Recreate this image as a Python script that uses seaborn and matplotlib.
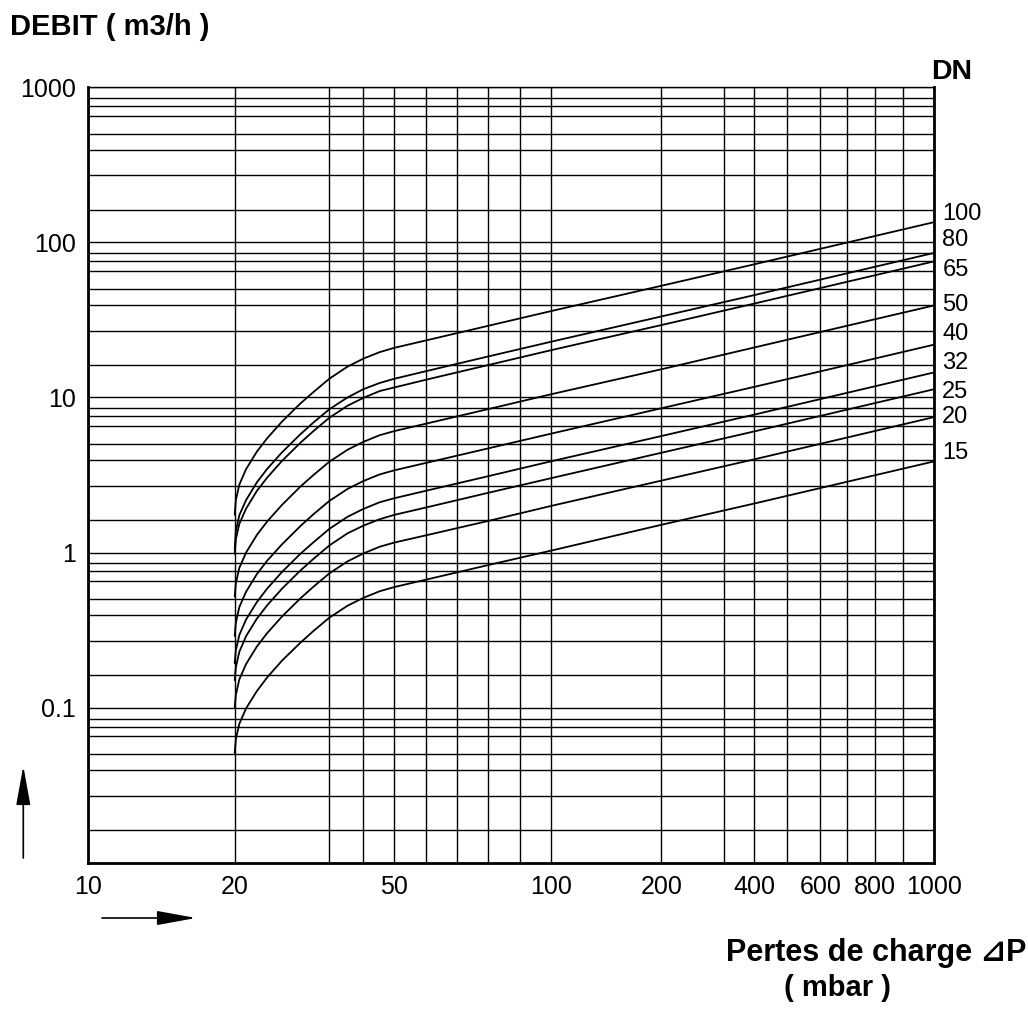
# Pressure drop chart: flow (m3/h) vs pressure loss (mbar) per DN size
import numpy as np
import pandas as pd
import matplotlib
matplotlib.use("Agg")
import matplotlib.pyplot as plt
import seaborn as sns
from matplotlib.patches import FancyArrowPatch

# ============================================
# DATA
# ============================================

pressure_mbar = [20, 20.1, 20.4, 21, 22, 23, 24.5, 26.5, 28, 30, 35, 40, 45, 50,
                 60, 80, 100, 200, 400, 1000]

dn_sizes = ["100", "80", "65", "50", "40", "32", "25", "20", "15"]

flow_dn100 = [1.75, 2.18, 2.74, 3.45, 4.48, 5.47, 6.99, 9.14, 10.8, 13.2, 15.8,
              17.8, 19.6, 20.9, 23.3, 29.0, 36.1, 52.5, 72.2, 135]
flow_dn80 = [1.05, 1.38, 1.74, 2.18, 2.84, 3.47, 4.43, 5.79, 6.87, 8.39, 10.0,
             11.3, 12.4, 13.2, 14.76, 18.4, 22.9, 33.3, 45.7, 85.5]
flow_dn65 = [0.98, 1.22, 1.53, 1.92, 2.50, 3.05, 3.90, 5.10, 6.05, 7.39, 8.84,
             9.93, 11.0, 11.6, 13.0, 16.2, 20.2, 29.3, 40.3, 75.4]
flow_dn50 = [0.52, 0.633, 0.796, 1.00, 1.30, 1.59, 2.03, 2.66, 3.15, 3.85, 4.60,
             5.17, 5.71, 6.07, 6.77, 8.42, 10.5, 15.2, 21.0, 39.2]
flow_dn40 = [0.29, 0.353, 0.445, 0.559, 0.727, 0.888, 1.13, 1.48, 1.76, 2.15,
             2.57, 2.89, 3.19, 3.39, 3.78, 4.70, 5.85, 8.52, 11.7, 21.9]
flow_dn32 = [0.193, 0.234, 0.294, 0.37, 0.48, 0.587, 0.75, 0.981, 1.16, 1.42,
             1.70, 1.91, 2.11, 2.24, 2.50, 3.11, 3.88, 5.64, 7.75, 14.5]
flow_dn25 = [0.15, 0.182, 0.229, 0.289, 0.375, 0.458, 0.585, 0.765, 0.907, 1.11,
             1.33, 1.49, 1.64, 1.75, 1.95, 2.43, 3.02, 4.40, 6.04, 11.3]
flow_dn20 = [0.10, 0.121, 0.152, 0.191, 0.248, 0.303, 0.387, 0.506, 0.60, 0.733,
             0.877, 0.986, 1.09, 1.16, 1.29, 1.60, 2.00, 2.91, 3.99, 7.47]
flow_dn15 = [0.051, 0.0625, 0.0786, 0.0989, 0.128, 0.157, 0.201, 0.262, 0.311,
             0.380, 0.454, 0.510, 0.563, 0.599, 0.668, 0.831, 1.03, 1.51, 2.07,
             3.87]

all_flows = [flow_dn100, flow_dn80, flow_dn65, flow_dn50, flow_dn40,
             flow_dn32, flow_dn25, flow_dn20, flow_dn15]

x_tick_values = [10, 20, 50, 100, 200, 400, 600, 800, 1000]
y_tick_values = [0.1, 1, 10, 100, 1000]
y_tick_labels = ["0.1", "1", "10", "100", "1000"]

# long format table for seaborn
rows = []
for dn, flows in zip(dn_sizes, all_flows):
    for p, q in zip(pressure_mbar, flows):
        rows.append({"DN": dn, "pressure": p, "flow": q})
df = pd.DataFrame(rows)

# ============================================
# AXIS SCALES (hand drawn, non uniform paper)
# ============================================

# x grid values and where they sit along the axis (0 = left, 1 = right)
x_grid_values = [10, 20, 30, 40, 50, 60, 70, 80, 90, 100,
                 200, 300, 400, 500, 600, 700, 800, 900, 1000]
x_grid_frac = [0.0, 0.1734, 0.2852, 0.3254, 0.3621, 0.3992, 0.4364, 0.4734,
               0.5103, 0.5478, 0.6778, 0.7519, 0.7875, 0.8262, 0.8655,
               0.8975, 0.9307, 0.9634, 1.0]

lk = np.log10(np.array(x_grid_values, float))
fk = np.array(x_grid_frac)


def _interp_ext(v, xs, ys):
    out = np.interp(v, xs, ys)
    lo_slope = (ys[1] - ys[0]) / (xs[1] - xs[0])
    hi_slope = (ys[-1] - ys[-2]) / (xs[-1] - xs[-2])
    out = np.where(v < xs[0], ys[0] + (v - xs[0]) * lo_slope, out)
    out = np.where(v > xs[-1], ys[-1] + (v - xs[-1]) * hi_slope, out)
    return out


def x_forward(x):
    x = np.asarray(x, float)
    lx = np.log10(np.maximum(x, 1e-12))
    return _interp_ext(lx, lk, fk)


def x_inverse(f):
    f = np.asarray(f, float)
    return 10 ** _interp_ext(f, fk, lk)


# y minor grid lines inside each decade
y_minor_mant = [8.5, 7.55, 6.55, 5.0, 3.95, 2.7, 1.62]
y_minor = [m * 10.0 ** k for k in range(-3, 3) for m in y_minor_mant]

# ============================================
# PLOT
# ============================================

sns.set_style("white")
plt.rcParams["font.family"] = ["Liberation Sans", "DejaVu Sans"]
plt.rcParams["text.color"] = "black"
plt.rcParams["axes.labelcolor"] = "black"
plt.rcParams["xtick.color"] = "black"
plt.rcParams["ytick.color"] = "black"

W, H = 1028, 1010
fig = plt.figure(figsize=(W / 100, H / 100), dpi=100)
ax = fig.add_axes([88 / W, 1 - 862.7 / H, 846 / W, 775.4 / H])

sns.lineplot(
    data=df,
    x="pressure",
    y="flow",
    hue="DN",
    palette=["black"] * len(dn_sizes),
    legend=False,
    errorbar=None,
    linewidth=1.3,
    ax=ax,
)

ax.set_xscale("function", functions=(x_forward, x_inverse))
ax.set_yscale("log")
ax.set_xlim(10, 1000)
ax.set_ylim(0.01, 1000)

ax.set_xticks(x_tick_values)
ax.set_xticklabels([str(v) for v in x_tick_values])
ax.set_xticks([v for v in x_grid_values if v not in x_tick_values], minor=True)

ax.set_yticks(y_tick_values)
ax.set_yticklabels(y_tick_labels)
ax.set_yticks([v for v in y_minor if 0.01 < v < 1000], minor=True)
ax.yaxis.set_minor_formatter(plt.NullFormatter())
ax.xaxis.set_minor_formatter(plt.NullFormatter())

ax.grid(True, which="both", color="black", linewidth=1.0)
ax.set_axisbelow(True)

ax.tick_params(axis="y", which="major", length=6, width=1.0, pad=3,
               labelsize=18, colors="black")
ax.tick_params(axis="x", which="major", length=4.5, width=1.0, pad=4,
               labelsize=18, colors="black")
ax.tick_params(which="minor", length=0)

ax.set_xlabel("")
ax.set_ylabel("")

for side in ["left", "bottom", "right"]:
    ax.spines[side].set_visible(True)
    ax.spines[side].set_color("black")
    ax.spines[side].set_linewidth(2.0)
ax.spines["top"].set_linewidth(1.0)
ax.spines["top"].set_color("black")

# DN labels at the right end of each curve
dn_label_y = [153, 103, 66.7, 39.6, 25.8, 16.8, 10.9, 7.43, 4.4]
for dn, ly in zip(dn_sizes, dn_label_y):
    ax.annotate(dn, xy=(1000, ly), xytext=(6, 0), textcoords="offset points",
                va="center", ha="left", fontsize=17, annotation_clip=False)

# texts
fig.text(10 / W, 1 - 27 / H, "DEBIT ( m3/h )", fontsize=21, fontweight="bold",
         ha="left", va="center")
fig.text(952 / W, 1 - 72 / H, "DN", fontsize=20.5, fontweight="bold",
         ha="center", va="center")
fig.text(1026 / W, 1 - 953 / H, "Pertes de charge \u22bfP", fontsize=22,
         fontweight="bold", ha="right", va="center")
fig.text(838 / W, 1 - 988 / H, "( mbar )", fontsize=21, fontweight="bold",
         ha="center", va="center")

# arrows
up_arrow = FancyArrowPatch(
    (23.3 / W, 1 - 858 / H), (23.3 / W, 1 - 766 / H),
    transform=fig.transFigure,
    arrowstyle="-|>,head_length=2.2,head_width=0.4",
    mutation_scale=11, color="black", linewidth=1.2,
    shrinkA=0, shrinkB=0,
)
right_arrow = FancyArrowPatch(
    (102 / W, 1 - 918 / H), (196 / W, 1 - 918 / H),
    transform=fig.transFigure,
    arrowstyle="-|>,head_length=2.2,head_width=0.4",
    mutation_scale=11, color="black", linewidth=1.2,
    shrinkA=0, shrinkB=0,
)
fig.add_artist(up_arrow)
fig.add_artist(right_arrow)

fig.savefig("out.png", dpi=100)
print("Chart saved to out.png")
